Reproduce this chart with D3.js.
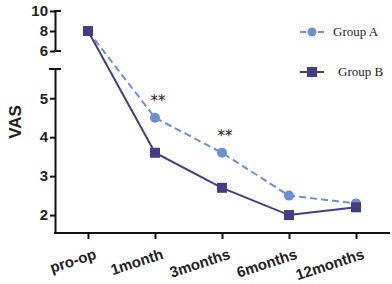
<!DOCTYPE html>
<html>
<head>
<meta charset="utf-8">
<script src="https://cdn.jsdelivr.net/npm/d3@7"></script>
<style>
  body { margin: 0; background: #fff; }
  svg { display: block; }
</style>
</head>
<body>
<div id="chart"></div>
<script>
// data
var categories = ["pro-op", "1month", "3months", "6months", "12months"];
var groupA = [8, 4.5, 3.6, 2.5, 2.3];
var groupB = [8, 3.6, 2.7, 2.0, 2.2];
var upperTicks = [6, 8, 10];
var lowerTicks = [2, 3, 4, 5];
var starIdx = [1, 2]; // "**" over these timepoints

var W = 392, H = 284;
var colA = "#6b8fd0", colB = "#423d85";

var svg = d3.select("#chart").append("svg")
    .attr("width", W).attr("height", H);

var x = d3.scalePoint().domain(categories).range([88, 356]);

// broken y axis: two pieces
var yUp = d3.scaleLinear().domain([6, 10]).range([51, 11]);
var yLo = d3.scaleLinear().domain([1.54, 5.75]).range([233, 69]);

function yOf(v) { return v >= 6 ? yUp(v) : yLo(v); }

var axisX = 55;

// upper y axis
var gUp = svg.append("g").attr("transform", "translate(" + axisX + ",0)")
    .call(d3.axisLeft(yUp).tickValues(upperTicks).tickFormat(d3.format("d")).tickSize(5).tickPadding(2).tickSizeOuter(0));
// lower y axis
var gLo = svg.append("g").attr("transform", "translate(" + axisX + ",0)")
    .call(d3.axisLeft(yLo).tickValues(lowerTicks).tickFormat(d3.format("d")).tickSize(5).tickPadding(2).tickSizeOuter(0));

[gUp, gLo].forEach(function(g) {
  g.select(".domain").attr("stroke", "#111").attr("stroke-width", 2);
  g.selectAll(".tick line").attr("stroke", "#111").attr("stroke-width", 2);
  g.selectAll(".tick text")
    .style("font-family", "Liberation Sans, Arial, sans-serif")
    .style("font-weight", "bold").style("font-size", "15px").attr("fill", "#222");
});
// little bracket caps at the break
svg.append("line").attr("x1", axisX - 1).attr("x2", axisX + 6)
  .attr("y1", yUp(6)).attr("y2", yUp(6)).attr("stroke", "#111").attr("stroke-width", 2);
svg.append("line").attr("x1", axisX - 6).attr("x2", axisX + 6)
  .attr("y1", yLo.range()[1]).attr("y2", yLo.range()[1]).attr("stroke", "#111").attr("stroke-width", 2);
svg.append("line").attr("x1", axisX - 1).attr("x2", axisX + 6)
  .attr("y1", yUp(10)).attr("y2", yUp(10)).attr("stroke", "#111").attr("stroke-width", 2);

// x axis
var gx = svg.append("g").attr("transform", "translate(0,233)")
    .call(d3.axisBottom(x).tickSize(6).tickSizeOuter(0).tickPadding(6));
gx.select(".domain").attr("d", "M" + (axisX - 1) + ",0H390").attr("stroke", "#111").attr("stroke-width", 2);
gx.selectAll(".tick line").attr("stroke", "#111").attr("stroke-width", 2);
gx.selectAll(".tick text")
  .style("font-family", "Liberation Sans, Arial, sans-serif")
  .style("font-weight", "bold").style("font-size", "15px").attr("fill", "#222")
  .attr("text-anchor", "end")
  .attr("transform", "translate(5,14) rotate(-18)")
  .attr("dy", "0");

// y label
svg.append("text")
  .attr("transform", "translate(21,122) rotate(-90)")
  .attr("text-anchor", "middle")
  .style("font-family", "Liberation Sans, Arial, sans-serif")
  .style("font-weight", "bold").style("font-size", "17px").attr("fill", "#222")
  .text("VAS");

var line = d3.line()
  .x(function(d, i) { return x(categories[i]); })
  .y(function(d) { return yOf(d); });

svg.append("path").datum(groupA).attr("d", line)
  .attr("fill", "none").attr("stroke", colA).attr("stroke-width", 2)
  .attr("stroke-dasharray", "7,4");
svg.append("path").datum(groupB).attr("d", line)
  .attr("fill", "none").attr("stroke", colB).attr("stroke-width", 2);

svg.selectAll(".ptA").data(groupA).enter().append("circle")
  .attr("cx", function(d, i) { return x(categories[i]); })
  .attr("cy", function(d) { return yOf(d); })
  .attr("r", 5).attr("fill", colA);
svg.selectAll(".ptB").data(groupB).enter().append("rect")
  .attr("x", function(d, i) { return x(categories[i]) - 5; })
  .attr("y", function(d) { return yOf(d) - 5; })
  .attr("width", 10).attr("height", 10).attr("fill", colB);

// significance stars
svg.selectAll(".star").data(starIdx).enter().append("text")
  .attr("x", function(i) { return x(categories[i]) + 3; })
  .attr("y", function(i) { return yOf(groupA[i]) - 12; })
  .attr("text-anchor", "middle")
  .style("font-family", "DejaVu Sans, sans-serif")
  .style("font-size", "15px").attr("fill", "#222")
  .text("**");

// legend
var legend = [
  { name: "Group A", color: colA, shape: "circle", dash: "6,3", y: 32, tx: 333 },
  { name: "Group B", color: colB, shape: "rect", dash: null, y: 72, tx: 338 }
];
var lg = svg.selectAll(".lg").data(legend).enter().append("g");
lg.append("line").attr("x1", 300).attr("x2", 324)
  .attr("y1", function(d) { return d.y; }).attr("y2", function(d) { return d.y; })
  .attr("stroke", function(d) { return d.color; }).attr("stroke-width", 2)
  .attr("stroke-dasharray", function(d) { return d.dash; });
lg.each(function(d) {
  var g = d3.select(this);
  if (d.shape === "circle") {
    g.append("circle").attr("cx", 312).attr("cy", d.y).attr("r", 4.5).attr("fill", d.color);
  } else {
    g.append("rect").attr("x", 307).attr("y", d.y - 5).attr("width", 10).attr("height", 10).attr("fill", d.color);
  }
});
lg.append("text").attr("x", function(d) { return d.tx; })
  .attr("y", function(d) { return d.y + 4; })
  .style("font-family", "Liberation Serif, Times New Roman, serif")
  .style("font-size", "13px").attr("fill", "#222")
  .text(function(d) { return d.name; });
</script>
</body>
</html>
